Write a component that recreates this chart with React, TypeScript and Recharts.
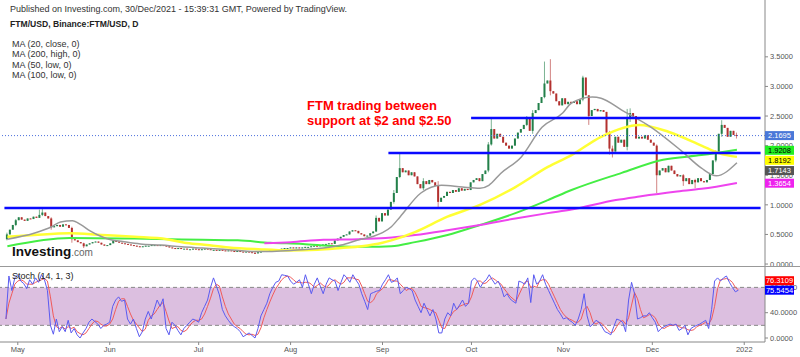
import React from 'react';
import { ComposedChart, Bar, Line, XAxis, YAxis, ReferenceLine, ReferenceArea } from 'recharts';

// daily candles, Apr 27 2021 -> Dec 30 2021 (index 0 = Apr 27)
const firstOpen = 0.42;
const closes = [
  0.50, 0.58, 0.66, 0.74, 0.79, 0.75, 0.73, 0.77, 0.76, 0.80,
  0.78, 0.83, 0.87, 0.81, 0.77, 0.62, 0.64, 0.66, 0.63, 0.67,
  0.66, 0.61, 0.42, 0.40, 0.37, 0.35, 0.30, 0.33, 0.35, 0.37,
  0.38, 0.36, 0.33, 0.31, 0.32, 0.35, 0.39, 0.38, 0.36, 0.35,
  0.34, 0.33, 0.32, 0.31, 0.30, 0.29, 0.30, 0.31, 0.31, 0.32,
  0.32, 0.31, 0.32, 0.31, 0.30, 0.28, 0.27, 0.26, 0.27, 0.26,
  0.26, 0.25, 0.25, 0.26, 0.25, 0.24, 0.25, 0.26, 0.25, 0.24,
  0.24, 0.23, 0.24, 0.23, 0.22, 0.23, 0.22, 0.21, 0.22, 0.21,
  0.20, 0.21, 0.20, 0.19, 0.18, 0.20, 0.21, 0.22, 0.22, 0.23,
  0.22, 0.23, 0.25, 0.26, 0.27, 0.27, 0.28, 0.27, 0.28, 0.27,
  0.28, 0.29, 0.29, 0.30, 0.31, 0.30, 0.32, 0.33, 0.34, 0.35,
  0.34, 0.40, 0.43, 0.46, 0.49, 0.50, 0.55, 0.57, 0.56, 0.52,
  0.50, 0.47, 0.48, 0.52, 0.55, 0.78, 0.72, 0.86, 0.82, 0.92,
  1.05, 1.20, 1.47, 1.62, 1.55, 1.58, 1.50, 1.55, 1.48, 1.35,
  1.28, 1.40, 1.35, 1.42, 1.38, 1.32, 1.05, 1.12, 1.15, 1.22,
  1.20, 1.25, 1.22, 1.28, 1.24, 1.27, 1.25, 1.38, 1.42, 1.45,
  1.40, 1.52, 1.58, 2.02, 2.28, 2.12, 2.20, 2.15, 2.05, 2.00,
  1.95, 2.00, 2.12, 2.22, 2.28, 2.35, 2.45, 2.25, 2.55, 2.60,
  2.72, 2.82, 3.05, 3.10, 2.92, 2.88, 2.75, 2.68, 2.80, 2.70,
  2.74, 2.72, 2.75, 2.70, 2.78, 3.15, 2.85, 2.50, 2.60, 2.62,
  2.58, 2.60, 2.57, 2.22, 1.95, 1.90, 2.15, 2.05, 2.10, 1.98,
  2.45, 2.55, 2.50, 2.12, 2.15, 2.12, 2.18, 2.10, 2.05, 2.00,
  1.50, 1.58, 1.62, 1.55, 1.66, 1.58, 1.52, 1.48, 1.50, 1.40,
  1.45, 1.35, 1.42, 1.38, 1.45, 1.40, 1.38, 1.42, 1.52, 1.75,
  1.90, 2.20, 2.35, 2.30, 2.15, 2.25, 2.18, 2.17,
];

// [day, high, low] for the candles with visible shadows
const wicks: [number, number, number][] = [
  [0, 0.53, 0.40], [3, 0.76, 0.64], [11, 0.92, 0.78], [12, 0.95, 0.81], [15, 0.79, 0.58],
  [22, 0.63, 0.36], [26, 0.36, 0.27], [84, 0.20, 0.17], [125, 0.82, 0.54], [131, 1.25, 1.02],
  [133, 1.87, 1.45], [141, 1.45, 1.25], [146, 1.40, 0.96], [163, 2.06, 1.55], [164, 2.47, 2.0],
  [176, 2.50, 2.33], [178, 2.60, 2.20], [182, 3.42, 2.80], [184, 3.46, 2.85], [195, 3.18, 2.75],
  [197, 2.85, 2.35], [204, 2.25, 1.85], [205, 2.0, 1.80], [210, 2.62, 1.92], [211, 2.63, 2.40],
  [220, 2.02, 1.20], [229, 1.52, 1.32], [233, 1.44, 1.28], [240, 1.92, 1.72], [242, 2.43, 2.15],
  [247, 2.22, 2.12],
];

// moving averages, [day, value]
const ma20: [number, number][] = [
  [0, 0.42], [9, 0.52], [15, 0.63], [18, 0.71], [22, 0.73], [25, 0.66], [28, 0.56], [32, 0.46],
  [35, 0.41], [39, 0.38], [45, 0.34], [52, 0.32], [59, 0.29], [66, 0.27], [73, 0.25], [85, 0.21],
  [96, 0.23], [107, 0.27], [113, 0.32], [119, 0.41], [124, 0.47], [127, 0.53], [130, 0.63],
  [133, 0.80], [140, 1.2], [147, 1.33], [154, 1.30], [160, 1.28], [163, 1.33], [167, 1.53],
  [174, 1.81], [181, 2.31], [188, 2.55], [191, 2.72], [198, 2.82], [201, 2.80], [208, 2.6],
  [218, 2.31], [228, 1.92], [235, 1.62], [240, 1.49], [247, 1.71],
];
const ma50: [number, number][] = [
  [0, 0.46], [9, 0.49], [21, 0.52], [32, 0.49], [43, 0.46], [54, 0.42], [60, 0.36], [66, 0.33],
  [75, 0.28], [85, 0.25], [95, 0.23], [105, 0.24], [113, 0.27], [120, 0.30], [127, 0.36],
  [130, 0.40], [138, 0.54], [149, 0.80], [160, 1.0], [172, 1.3], [183, 1.64], [191, 1.84],
  [201, 2.15], [214, 2.35], [224, 2.23], [235, 2.0], [241, 1.87], [247, 1.81],
];
const ma100: [number, number][] = [
  [0, 0.30], [21, 0.44], [43, 0.43], [66, 0.41], [78, 0.40], [89, 0.36], [100, 0.34], [111, 0.30],
  [122, 0.29], [130, 0.30], [138, 0.37], [149, 0.49], [160, 0.66], [172, 0.86], [183, 1.08],
  [191, 1.25], [208, 1.54], [222, 1.76], [235, 1.84], [247, 1.93],
];
const ma200: [number, number][] = [
  [87, 0.35], [96, 0.37], [107, 0.41], [119, 0.42], [128, 0.44], [138, 0.49], [149, 0.57],
  [160, 0.66], [172, 0.77], [183, 0.86], [191, 0.92], [206, 1.08], [214, 1.14], [226, 1.22],
  [235, 1.27], [247, 1.37],
];

// Stoch (14, 1, 3)
const stochK = [
  30, 98, 75, 95, 100, 90, 86, 78, 92, 85,
  95, 88, 100, 92, 75, 20, 6, 30, 10, 18,
  10, 28, 8, 15, 5, 0, 8, 15, 25, 30,
  26, 22, 15, 20, 22, 25, 50, 60, 65, 58,
  60, 30, 22, 30, 15, 2, 10, 30, 42, 30,
  45, 60, 50, 62, 15, 5, 25, 20, 12, 5,
  15, 20, 25, 30, 28, 25, 40, 50, 60, 80,
  95, 82, 68, 45, 35, 28, 22, 18, 15, 10,
  2, 5, 8, 4, 0, 15, 35, 45, 55, 70,
  80, 88, 90, 100, 99, 98, 90, 85, 88, 92,
  80, 100, 85, 70, 85, 95, 82, 70, 85, 95,
  92, 90, 75, 88, 100, 95, 88, 100, 92, 85,
  70, 58, 45, 70, 72, 74, 75, 85, 92, 100,
  88, 90, 95, 70, 75, 80, 78, 75, 60, 50,
  40, 55, 45, 35, 45, 30, 8, 8, 30, 40,
  35, 55, 45, 52, 60, 50, 55, 90, 95, 90,
  80, 88, 92, 100, 92, 85, 90, 80, 65, 70,
  62, 58, 55, 90, 88, 85, 95, 56, 100, 85,
  90, 100, 85, 75, 65, 55, 45, 38, 30, 32,
  28, 25, 20, 30, 45, 70, 35, 18, 22, 28,
  25, 18, 10, 8, 5, 18, 30, 28, 25, 10,
  60, 88, 70, 30, 32, 35, 35, 40, 32, 25,
  10, 15, 18, 20, 22, 20, 22, 12, 15, 20,
  5, 15, 18, 20, 22, 25, 28, 15, 45, 90,
  95, 90, 95, 98, 88, 80, 73, 75.5,
];
const stochD = [
  30, 55, 70, 85, 90, 92, 90, 85, 85, 85,
  88, 90, 92, 94, 90, 65, 35, 18, 15, 18,
  14, 18, 15, 17, 10, 7, 5, 8, 15, 22,
  27, 26, 22, 19, 19, 22, 30, 45, 58, 62,
  62, 50, 38, 28, 22, 16, 10, 14, 28, 35,
  38, 45, 52, 56, 42, 27, 15, 17, 18, 12,
  10, 13, 20, 25, 28, 28, 30, 38, 50, 63,
  78, 85, 82, 65, 50, 38, 30, 22, 18, 15,
  10, 6, 5, 6, 4, 6, 16, 32, 45, 57,
  68, 78, 85, 92, 96, 98, 96, 92, 88, 88,
  87, 88, 88, 85, 80, 83, 87, 83, 80, 84,
  90, 92, 88, 85, 88, 95, 95, 95, 93, 92,
  82, 70, 58, 56, 60, 70, 74, 78, 84, 92,
  92, 90, 90, 85, 80, 75, 78, 78, 72, 62,
  50, 48, 47, 45, 42, 40, 28, 16, 15, 25,
  35, 42, 45, 50, 52, 54, 55, 65, 80, 90,
  90, 86, 87, 92, 95, 92, 88, 85, 78, 72,
  66, 62, 58, 68, 78, 88, 90, 80, 82, 80,
  90, 92, 92, 85, 75, 65, 55, 45, 38, 33,
  30, 28, 25, 25, 30, 45, 50, 40, 25, 22,
  25, 23, 18, 12, 8, 10, 18, 25, 28, 22,
  32, 52, 72, 62, 45, 32, 34, 37, 36, 32,
  22, 17, 15, 18, 20, 20, 21, 18, 16, 16,
  13, 12, 13, 18, 20, 22, 25, 22, 30, 50,
  78, 92, 93, 94, 92, 88, 80, 76.3,
];

const monthTicks = [4, 35, 65, 96, 127, 157, 188, 218, 249];
const monthLabels = ['May', 'Jun', 'Jul', 'Aug', 'Sep', 'Oct', 'Nov', 'Dec', '2022'];
const priceTicks = [0, 0.5, 1, 1.5, 2, 2.5, 3, 3.5];
const stochTicks = [0, 40, 80];

// hand-drawn support / resistance lines: [fromDay, toDay, price]
const levels: [number, number, number][] = [
  [-1, 255, 0.946],
  [129, 255, 1.875],
  [157, 255, 2.466],
];

const lastPrice = 2.1695;
// last values shown as tags on the right scale: [value, text, background, text colour, nudge px]
const priceTags: [number, string, string, string, number][] = [
  [2.1695, '2.1695', '#4a78d8', '#fff', 0],
  [1.9208, '1.9208', '#22ee22', '#000', 0],
  [1.8192, '1.8192', '#ffff00', '#000', 4],
  [1.7143, '1.7143', '#555', '#fff', 8],
  [1.3654, '1.3654', '#ee22ee', '#fff', 0],
];
const stochTags: [number, string, string, string, number][] = [
  [76.31, '76.3109', '#ff0000', '#fff', -9],
  [75.55, '75.5454', '#0000ff', '#fff', 0],
];
const maLegend = ['MA (20, close, 0)', 'MA (200, high, 0)', 'MA (50, low, 0)', 'MA (100, low, 0)'];

const wickMap = new Map(wicks.map((w) => [w[0], w]));
const rows: any[] = [];
for (let i = -2; i <= 256; i++) {
  const row: any = { i };
  if (i >= 0 && i < closes.length) {
    const open = i === 0 ? firstOpen : closes[i - 1];
    const close = closes[i];
    const w = wickMap.get(i);
    const high = Math.max(open, close, w ? w[1] : 0);
    const low = Math.min(open, close, w ? w[2] : Infinity);
    Object.assign(row, { open, close, high, low, range: [low, high], k: stochK[i], d: stochD[i] });
  }
  rows.push(row);
}
const maSets: [string, [number, number][]][] = [['ma20', ma20], ['ma50', ma50], ['ma100', ma100], ['ma200', ma200]];
maSets.forEach(([key, pts]) => pts.forEach(([i, v]) => { rows[i + 2][key] = v; }));

const UP = '#23804a';
const DOWN = '#b3312f';

const Candle = (props: any) => {
  const { x, y, width, height, payload } = props;
  if (!payload || payload.open == null) return null;
  const { open, close, high, low } = payload;
  const span = high - low;
  const ppu = span > 0 ? height / span : 0;
  const top = y + (high - Math.max(open, close)) * ppu;
  const bot = y + (high - Math.min(open, close)) * ppu;
  const color = close >= open ? UP : DOWN;
  const cx = x + width / 2;
  return (
    <g>
      {height > 0 && <line x1={cx} x2={cx} y1={y} y2={y + height} stroke={color} strokeOpacity={0.6} strokeWidth={1} />}
      <rect x={x} y={top} width={width} height={Math.max(1, bot - top)} fill={color} />
    </g>
  );
};

const tag = (text: string, bg: string, fg: string, shift: number) => (p: any) => {
  const vb = p.viewBox;
  if (!vb) return null;
  const x = vb.x + vb.width;
  const y = vb.y + shift;
  return (
    <g>
      <rect x={x} y={y - 4.5} width={29} height={9} fill={bg} />
      <text x={x + 14.5} y={y + 2.7} textAnchor="middle" fontSize={7.5} fill={fg}>{text}</text>
    </g>
  );
};

const font = '"Liberation Sans", Arial, sans-serif';
const axisTick = { fontSize: 7.5, fill: '#555', fontFamily: font };
const overlay: React.CSSProperties = { position: 'absolute', left: 0, top: 0 };

export default function App() {
  return (
    <div style={{ position: 'absolute', left: 0, top: 0, width: 800, height: 357, background: '#fff', fontFamily: font, overflow: 'hidden' }}>
      {/* price pane */}
      <div style={overlay}>
        <ComposedChart width={800} height={271} data={rows} margin={{ top: 0, right: 0, bottom: 4, left: 0 }}>
          <XAxis dataKey="i" hide />
          <YAxis
            orientation="right"
            width={35}
            type="number"
            domain={[-0.05, 4.46]}
            allowDataOverflow
            ticks={priceTicks}
            interval={0}
            tickFormatter={(v: number) => v.toFixed(4)}
            tick={axisTick}
            tickSize={3}
            axisLine={{ stroke: '#888' }}
            tickLine={{ stroke: '#888' }}
          />
          <Line dataKey="ma100" type="monotone" stroke="#44ee44" strokeWidth={2} dot={false} connectNulls isAnimationActive={false} />
          <Line dataKey="ma200" type="monotone" stroke="#ee44ee" strokeWidth={2} dot={false} connectNulls isAnimationActive={false} />
          <Line dataKey="ma50" type="monotone" stroke="#ffff33" strokeWidth={2.5} dot={false} connectNulls isAnimationActive={false} />
          <Line dataKey="ma20" type="monotone" stroke="#999" strokeWidth={1.5} dot={false} connectNulls isAnimationActive={false} />
          <Bar dataKey="range" barSize={2} shape={<Candle />} isAnimationActive={false} />
          {levels.map(([a, b, v]) => (
            <ReferenceLine key={v} segment={[{ x: a, y: v }, { x: b, y: v }]} stroke="#0a0aff" strokeWidth={2.5} ifOverflow="visible" />
          ))}
          <ReferenceLine y={lastPrice} stroke="#4a6fdc" strokeDasharray="1 2" />
        </ComposedChart>
      </div>

      <div style={{ position: 'absolute', left: 0, top: 266, width: 800, height: 1, background: '#999' }} />

      {/* stochastic pane */}
      <div style={{ position: 'absolute', left: 0, top: 267 }}>
        <ComposedChart width={800} height={90} data={rows} margin={{ top: 0, right: 0, bottom: 0, left: 0 }}>
          <XAxis
            dataKey="i"
            ticks={monthTicks}
            interval={0}
            height={15}
            tickFormatter={(v: number) => monthLabels[monthTicks.indexOf(v)] ?? ''}
            tick={axisTick}
            tickSize={3}
            axisLine={{ stroke: '#888' }}
            tickLine={{ stroke: '#888' }}
          />
          <YAxis
            orientation="right"
            width={35}
            type="number"
            domain={[-6.3, 112.2]}
            allowDataOverflow
            ticks={stochTicks}
            interval={0}
            tickFormatter={(v: number) => v.toFixed(4)}
            tick={axisTick}
            tickSize={3}
            axisLine={{ stroke: '#888' }}
            tickLine={{ stroke: '#888' }}
          />
          <ReferenceArea y1={20} y2={80} fill="#dcbfe0" fillOpacity={1} stroke="none" />
          <ReferenceLine y={80} stroke="#888" strokeDasharray="4 3" />
          <ReferenceLine y={20} stroke="#888" strokeDasharray="4 3" />
          <Line dataKey="d" type="linear" stroke="#f05a5a" strokeWidth={1} dot={false} isAnimationActive={false} />
          <Line dataKey="k" type="linear" stroke="#5a5af0" strokeWidth={1} dot={false} isAnimationActive={false} />
        </ComposedChart>
      </div>

      {/* last-value tags, drawn above the axis labels */}
      <div style={overlay}>
        <ComposedChart width={800} height={271} data={rows} margin={{ top: 0, right: 35, bottom: 4, left: 0 }}>
          <XAxis dataKey="i" hide />
          <YAxis hide type="number" domain={[-0.05, 4.46]} allowDataOverflow />
          {priceTags.map(([v, t, bg, fg, s]) => (
            <ReferenceLine key={t} y={v} stroke="none" label={tag(t, bg, fg, s)} />
          ))}
        </ComposedChart>
      </div>
      <div style={{ position: 'absolute', left: 0, top: 267 }}>
        <ComposedChart width={800} height={90} data={rows} margin={{ top: 0, right: 35, bottom: 15, left: 0 }}>
          <XAxis dataKey="i" hide />
          <YAxis hide type="number" domain={[-6.3, 112.2]} allowDataOverflow />
          {stochTags.map(([v, t, bg, fg, s]) => (
            <ReferenceLine key={t} y={v} stroke="none" label={tag(t, bg, fg, s)} />
          ))}
        </ComposedChart>
      </div>

      <div style={{ position: 'absolute', left: 10, top: 4, fontSize: 9, color: '#333', whiteSpace: 'nowrap' }}>
        Published on Investing.com, 30/Dec/2021 - 15:39:31 GMT, Powered by TradingView.
      </div>
      <div style={{ position: 'absolute', left: 10, top: 19, fontSize: 8.6, fontWeight: 'bold', color: '#222', whiteSpace: 'nowrap' }}>
        FTM/USD, Binance:FTM/USD, D
      </div>
      {maLegend.map((t, n) => (
        <div key={t} style={{ position: 'absolute', left: 12, top: 39 + n * 10.3, fontSize: 9, lineHeight: '10px', color: '#333', whiteSpace: 'nowrap' }}>{t}</div>
      ))}
      <div style={{ position: 'absolute', left: 307, top: 98, fontSize: 13, lineHeight: '15px', fontWeight: 'bold', color: '#ff0000', whiteSpace: 'nowrap' }}>
        FTM trading between<br />support at $2 and $2.50
      </div>
      <div style={{ position: 'absolute', left: 12, top: 243, whiteSpace: 'nowrap', lineHeight: '16px' }}>
        <span style={{ fontSize: 13.5, fontWeight: 'bold', color: '#111' }}>Investing</span>
        <span style={{ fontSize: 10, color: '#666' }}>.com</span>
      </div>
      <div style={{ position: 'absolute', left: 12, top: 271, fontSize: 9, color: '#222', whiteSpace: 'nowrap' }}>Stoch (14, 1, 3)</div>
    </div>
  );
}
